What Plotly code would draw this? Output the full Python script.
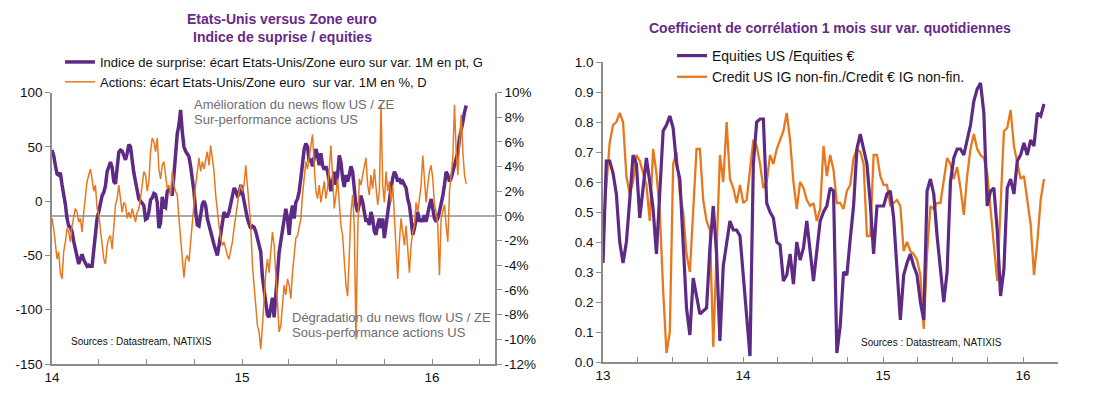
import plotly.graph_objects as go
import pandas as pd

W, H = 1099, 394

# ---------------- Left chart data (approx. every 3.2 days from 2014-01-01) ----------------
left_start = "2014-01-01"
surprise_index = [
    47, 42, 33, 25, 24, 26, 15, 7, -3, -16, -23, -24, -28, -37, -44, -53, -58, -53, -49, -54,
    -58, -60, -59, -60, -60, -44, -29, -16, -10, -3, 5, 8, 14, 27, 33, 36, 31, 18, 16, 30,
    45, 47, 46, 42, 38, 44, 52, 50, 36, 26, 18, 10, 2, 0, -2, -4, -17, -16, -10, 1,
    3, 7, 6, -1, -25, -20, 4, -5, -6, 9, 11, 10, 5, 26, 45, 62, 70, 84, 64, 50,
    46, 44, 41, 32, 22, 9, -9, -22, -23, -10, -3, 0, -4, -16, -23, -28, -34, -40, -46, -50,
    -41, -31, -21, -10, -14, -14, -10, -2, 5, 12, 10, 5, 6, 15, 8, 0, -10, -16, -21, -25,
    -23, -24, -28, -34,
    -38, -47, -70, -83, -95, -105, -107, -95, -89, -107, -86, -59, -47, -37, -25, -16, -7, -16, -31, -13,
    -4, -16, -1, 2, 9, 21, 39, 48, 53, 50, 36, 39, 32, 41, 48, 42, 33, 44, 33, 29,
    32, 27, 15, 9, 18, 27, 15, 24, 42, 36, 21, 13, 24, 18, 24, 32, 27, 9, -4, -10,
    -1, 5, -1, -10, -19, -16, -22, -10, -16, -28, -31, -22, -16, -25, -16, -34, -22, -10, 5, 12,
    21, 27, 24, 18, 21, 16, 18, 15, 12, 2, -4, -16, -31, -25, -16, -10, -19, -16, -19, -13,
    -19, -10, -4, 2, -10, -16, -19, -16, -10, -4, 5, 15, 27, 24, 18, 21, 27, 33, 36, 45,
    58, 64, 73, 82, 88,
]
equities_gap_pct = [
    -0.2, -1.0, -2.2, -3.5, -2.9, -4.6, -5.1, -2.9, -2.1, -1.0, -1.3, -2.1, -0.8, 0.05, 0.6, 0.3, -0.5, -0.2, -1.3, 0.3,
    1.7, 2.8, 3.3, 3.8, 3.0, 2.0, 2.5, 0.6, 0.1, -1.0, -2.1, -3.5, -3.9, -2.4, -1.8, -1.6, -2.7, -1.0, 0.9, 1.4,
    2.5, 1.4, 0.3, 1.1, 0.9, -0.2, 0.3, -0.2, 0.6, 0.05, -0.5, 0.3, 0.6, 1.4, 2.5, 3.6, 3.3, 2.0, 2.8, 5.2,
    6.3, 6.0, 5.2, 6.3, 3.8, 3.0, 4.1, 4.4, 3.3, 2.2, 2.5, 1.7, 3.6, 2.5, 2.0, 1.7, -0.2, -1.8, -3.5, -5.0,
    -3.5, -3.2, -3.7, -2.1, -0.2, 1.1, 2.5, 3.6, 4.7, 3.6, 4.4, 3.8, 4.7, 5.2, 4.1, 5.7, 4.7, 3.6, 1.7, 0.3,
    -0.8, -1.8, -2.4, -2.1, -2.7, -3.2, -3.5, -2.9, -2.1, -1.0, -0.2, 0.9, 2.0, 2.5, 2.0, 2.5, 4.1, 2.5, 0.9, -0.8,
    -4.0, -5.6, -7.0, -8.9,
    -9.4, -10.8, -8.9, -6.2, -4.6, -3.5, -4.6, -2.9, -1.3, -2.4, -5.1, -7.0, -9.4, -8.9, -7.0, -5.6, -6.4, -5.1, -5.6, -6.7,
    -4.6, -3.2, -1.8, -1.6, -1.0, -0.2, 1.7, 3.0, 4.4, 3.8, 4.7, 6.0, 6.6, 4.1, 2.0, 1.4, 2.5, 1.1, 2.0, 2.8,
    1.4, 2.2, 3.8, 5.7, 3.3, 0.6, 1.7, 3.0, 1.1, -0.8, -1.6, -3.7, -5.6, -6.5, -2.9, 0.3, 1.7, -0.8, -10.0, -1.6,
    3.0, 2.5, 3.3, 4.1, 4.7, 2.5, 1.7, 3.3, 2.2, 3.8, 2.5, 0.9, 2.0, 9.0, 2.5, 1.1, 3.6, 2.0, 2.8, 1.1,
    2.5, -0.2, -2.9, -5.1, -2.1, -0.2, -1.3, -2.4, -0.8, -2.9, -4.6, -2.4, -1.3, -0.8, 1.1, 0.3, 1.4, 2.5, 4.9, 2.8,
    1.1, 2.5, 3.6, 4.1, 3.0, 0.9, 0.3, -0.8, -4.8, -0.2, 0.3, 0.9, -0.8, -2.1, 2.0, 3.6, 4.7, 9.0, 5.2, 3.3,
    5.7, 8.2, 5.2, 3.3, 2.6,
]

# ---------------- Right chart data (approx. every 8.7 days from 2013-01-01) ----------------
right_start = "2013-01-01"
corr_equities = [
    0.33, 0.67, 0.67, 0.63, 0.56, 0.40, 0.33, 0.40, 0.54, 0.69, 0.66, 0.48, 0.58, 0.68, 0.60, 0.51, 0.36, 0.56, 0.77, 0.79,
    0.82, 0.78, 0.66, 0.61, 0.39, 0.18, 0.09, 0.28, 0.22, 0.16, 0.17, 0.18, 0.38, 0.52, 0.36, 0.07, 0.32, 0.39, 0.47, 0.44,
    0.44, 0.42, 0.29, 0.13, 0.02, 0.66, 0.80, 0.81, 0.81, 0.53, 0.50, 0.48, 0.40, 0.39, 0.27, 0.29, 0.36, 0.26, 0.40, 0.34,
    0.38, 0.47, 0.37, 0.27, 0.37, 0.47,
    0.50, 0.52, 0.58, 0.57, 0.03, 0.12, 0.30, 0.29, 0.41, 0.52, 0.71, 0.76, 0.71, 0.66, 0.53, 0.36, 0.52, 0.52, 0.52, 0.56,
    0.57, 0.48, 0.32, 0.14, 0.29, 0.33, 0.36, 0.32, 0.29, 0.20, 0.14, 0.57, 0.61, 0.56, 0.42, 0.30, 0.20, 0.30, 0.60, 0.68,
    0.71, 0.71, 0.69, 0.74, 0.79, 0.87, 0.91, 0.93, 0.83, 0.52, 0.57, 0.58, 0.44, 0.22, 0.31, 0.58, 0.61, 0.56, 0.67, 0.69,
    0.73, 0.69, 0.74, 0.72, 0.83, 0.82, 0.86,
]
corr_credit = [
    0.44, 0.60, 0.73, 0.79, 0.80, 0.83, 0.80, 0.62, 0.56, 0.60, 0.69, 0.67, 0.63, 0.59, 0.47, 0.71, 0.63, 0.50, 0.24, 0.03,
    0.10, 0.66, 0.70, 0.56, 0.50, 0.36, 0.30, 0.53, 0.71, 0.71, 0.54, 0.47, 0.44, 0.05, 0.40, 0.69, 0.60, 0.80, 0.61, 0.58,
    0.53, 0.59, 0.53, 0.54, 0.64, 0.74, 0.72, 0.66, 0.58, 0.60, 0.69, 0.66, 0.71, 0.74, 0.77, 0.83, 0.74, 0.60, 0.51, 0.60,
    0.58, 0.54, 0.52, 0.53, 0.47, 0.51,
    0.72, 0.62, 0.69, 0.64, 0.53, 0.53, 0.51, 0.57, 0.59, 0.68, 0.71, 0.70, 0.66, 0.42, 0.42, 0.69, 0.69, 0.62, 0.59, 0.59,
    0.52, 0.53, 0.54, 0.52, 0.37, 0.40, 0.37, 0.36, 0.34, 0.29, 0.11, 0.36, 0.52, 0.51, 0.53, 0.53, 0.61, 0.68, 0.66, 0.61,
    0.65, 0.58, 0.49, 0.62, 0.71, 0.76, 0.71, 0.69, 0.68, 0.63, 0.51, 0.40, 0.27, 0.52, 0.77, 0.78, 0.84, 0.72, 0.67, 0.61,
    0.62, 0.54, 0.46, 0.29, 0.40, 0.54, 0.61,
]

left_title = ["Etats-Unis versus Zone euro", "Indice de suprise / equities"]
right_title = "Coefficient de corrélation 1 mois sur var. quotidiennes"
left_names = ["Indice de surprise: écart Etats-Unis/Zone euro sur var. 1M en pt, G",
              "Actions: écart Etats-Unis/Zone euro  sur var. 1M en %, D"]
right_names = ["Equities US /Equities €", "Credit US IG non-fin./Credit € IG non-fin."]
left_y_ticks = [-150, -100, -50, 0, 50, 100]
left_y2_ticks = [-12, -10, -8, -6, -4, -2, 0, 2, 4, 6, 8, 10]
right_y_ticks = [round(0.1 * i, 1) for i in range(11)]
source_text = "Sources : Datastream, NATIXIS"

PURPLE = "#5d2a86"
ORANGE = "#e8781e"
TITLE_PURPLE = "#68298a"
GRAY = "#8c8c8c"
TXT = "#111111"
FONT = "Liberation Sans, Arial, sans-serif"

left_dates = pd.date_range(left_start, periods=len(surprise_index), freq="77h")
right_dates = pd.date_range(right_start, periods=len(corr_equities), freq="209h")


def px_x(x):
    return x / W


def px_y(y):
    return 1 - y / H


fig = go.Figure()

fig.add_trace(go.Scatter(x=left_dates, y=equities_gap_pct, yaxis="y2", xaxis="x",
                         mode="lines", line=dict(color=ORANGE, width=1.5),
                         name=left_names[1], legend="legend", legendrank=2))
fig.add_trace(go.Scatter(x=left_dates, y=surprise_index, yaxis="y", xaxis="x",
                         mode="lines", line=dict(color=PURPLE, width=3.5),
                         name=left_names[0], legend="legend", legendrank=1))
fig.add_trace(go.Scatter(x=right_dates, y=corr_credit, yaxis="y3", xaxis="x2",
                         mode="lines", line=dict(color=ORANGE, width=2.3),
                         name=right_names[1], legend="legend2", legendrank=2))
fig.add_trace(go.Scatter(x=right_dates, y=corr_equities, yaxis="y3", xaxis="x2",
                         mode="lines", line=dict(color=PURPLE, width=3.2),
                         name=right_names[0], legend="legend2", legendrank=1))

tickfont = dict(family=FONT, size=13.5, color=TXT)
ld = [px_x(52), px_x(495)]
ly = [px_y(364), px_y(92.5)]
rd = [px_x(603), px_x(1058)]
ry = [px_y(362), px_y(62)]

common_x = dict(type="date", showline=True, linecolor=GRAY, linewidth=1.5, showgrid=False,
                ticks="inside", ticklen=5, tickcolor=GRAY, tickwidth=1, tickformat="%y",
                dtick="M12", tickfont=tickfont, zeroline=False, fixedrange=True, automargin=False,
                minor=dict(dtick="M3", ticks="inside", ticklen=5, tickcolor=GRAY, showgrid=False))
common_y = dict(showline=True, linecolor=GRAY, linewidth=1.5, showgrid=False, ticks="outside",
                ticklen=5, tickcolor=GRAY, tickfont=tickfont, zeroline=False, fixedrange=True,
                automargin=False)

fig.update_layout(
    width=W, height=H, margin=dict(l=0, r=0, t=0, b=0, autoexpand=False),
    paper_bgcolor="white", plot_bgcolor="white",
    xaxis=dict(domain=ld, range=["2014-01-01", "2016-05-01"], tick0="2014-01-01",
               anchor="y", **common_x),
    yaxis=dict(domain=ly, range=[-150, 100], tickvals=left_y_ticks,
               ticktext=[str(v) for v in left_y_ticks], anchor="x", **common_y),
    yaxis2=dict(domain=ly, range=[-12, 10], tickvals=left_y2_ticks,
                ticktext=[f"{v}%" for v in left_y2_ticks], overlaying="y", side="right",
                anchor="x", **common_y),
    xaxis2=dict(domain=rd, range=["2013-01-01", "2016-04-01"], tick0="2013-01-01",
                anchor="y3", **common_x),
    yaxis3=dict(domain=ry, range=[0, 1], tickvals=right_y_ticks,
                ticktext=[f"{v:.1f}" for v in right_y_ticks], anchor="x2", **common_y),
    yaxis4=dict(domain=ry, range=[0, 1], tickvals=right_y_ticks,
                ticktext=[f"{v:.1f}" for v in right_y_ticks], overlaying="y3", side="right",
                anchor="x2", **common_y),
    legend=dict(x=px_x(60), y=px_y(47), xanchor="left", yanchor="top",
                font=dict(family=FONT, size=13, color=TXT), bgcolor="rgba(0,0,0,0)",
                itemwidth=30, tracegroupgap=0, traceorder="normal"),
    legend2=dict(x=px_x(672), y=px_y(40), xanchor="left", yanchor="top",
                 font=dict(family=FONT, size=14, color=TXT), bgcolor="rgba(0,0,0,0)",
                 itemwidth=30, tracegroupgap=0, traceorder="normal"),
    showlegend=True,
)

fig.add_shape(type="line", xref="paper", yref="y2", x0=ld[0], x1=ld[1], y0=0, y1=0,
              line=dict(color=GRAY, width=1.5), layer="below")

title_font = dict(family=FONT, size=14, color=TITLE_PURPLE)
for txt, x, y in [(left_title[0], 282, 19), (left_title[1], 282, 37), (right_title, 830, 28)]:
    fig.add_annotation(text="<b>" + txt + "</b>", xref="paper", yref="paper", x=px_x(x),
                       y=px_y(y), xanchor="center", yanchor="middle", showarrow=False,
                       font=title_font)

ann_font = dict(family=FONT, size=13, color="#6e6e6e")
for txt, x, y in [("Amélioration du news flow US / ZE", 192, 105),
                  ("Sur-performance actions US", 192, 119.5),
                  ("Dégradation du news flow US / ZE", 290, 317.5),
                  ("Sous-performance actions US", 290, 332.5)]:
    fig.add_annotation(text=txt, xref="paper", yref="paper", x=px_x(x), y=px_y(y),
                       xanchor="left", yanchor="middle", showarrow=False, font=ann_font)

for x, y in [(69, 341), (859, 342)]:
    fig.add_annotation(text=source_text, xref="paper", yref="paper", x=px_x(x), y=px_y(y),
                       xanchor="left", yanchor="middle", showarrow=False,
                       font=dict(family=FONT, size=10, color=TXT))

# the page body has a default 8px margin; remove it so the figure fills the window exactly
fig.write_html("out.html", config={"displayModeBar": False},
               post_script="document.body.style.margin='0px';")
